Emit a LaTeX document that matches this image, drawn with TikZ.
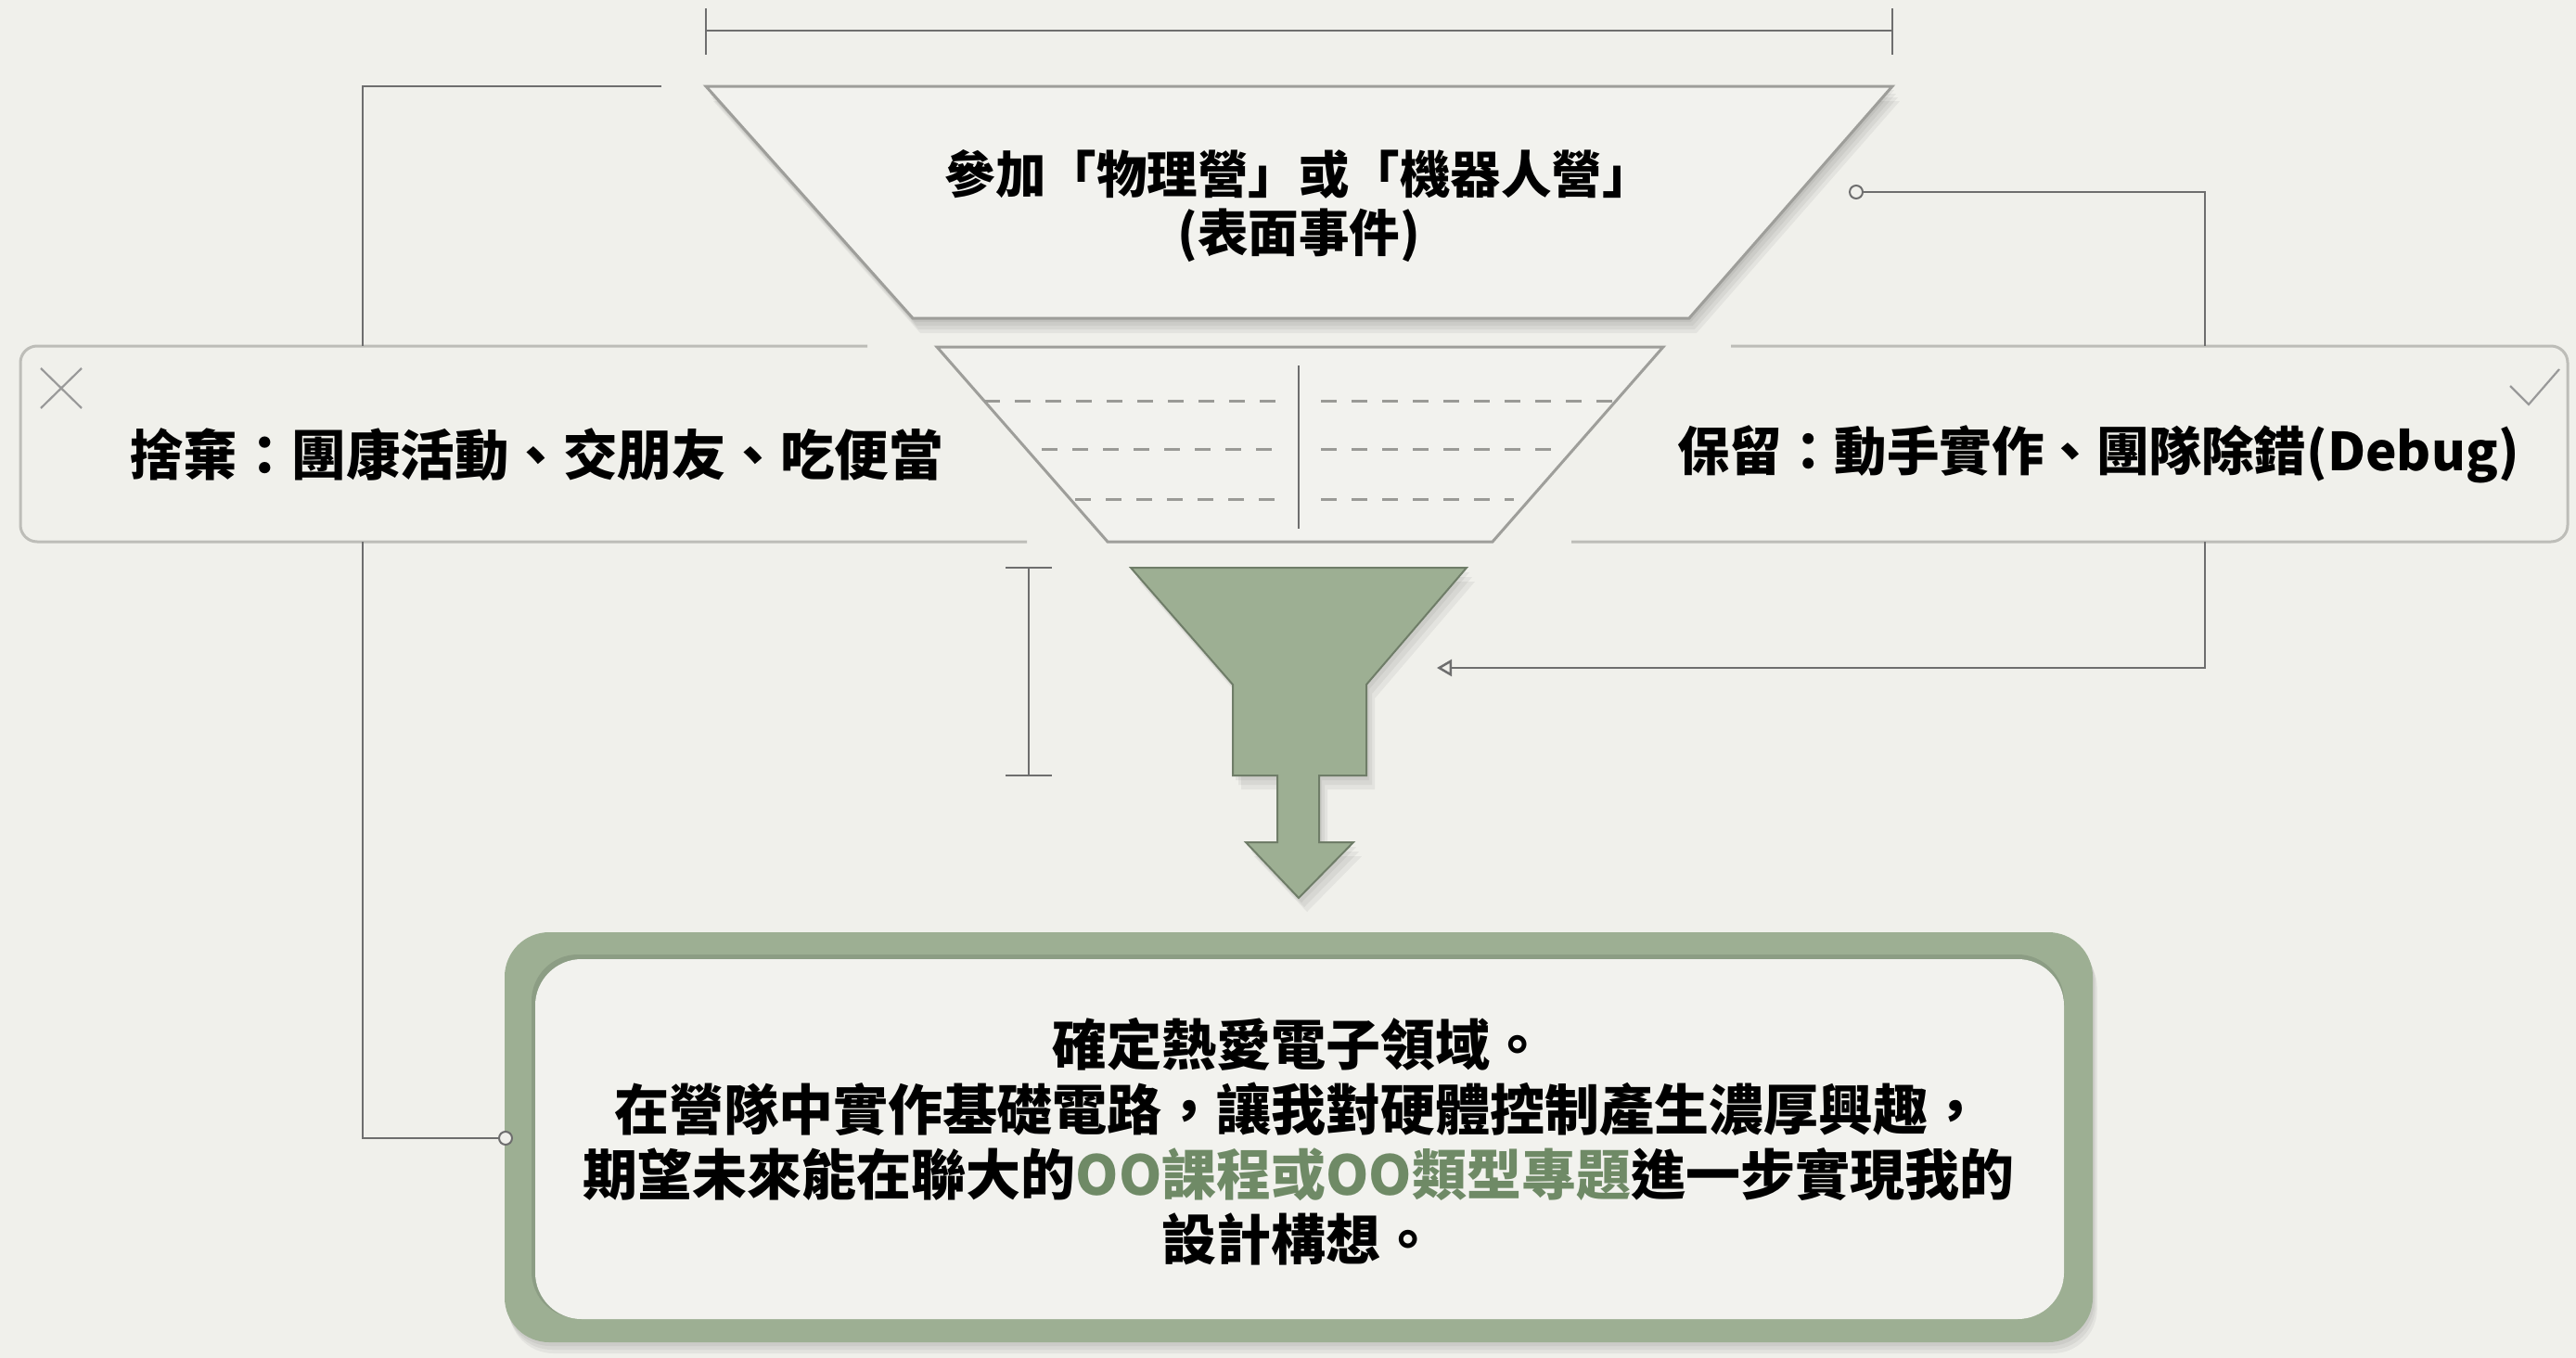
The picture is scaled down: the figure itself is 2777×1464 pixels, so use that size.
\documentclass[tikz,border=0pt]{standalone}
\usepackage{fontspec}
\setmainfont{Noto Sans CJK TC}
\usetikzlibrary{arrows.meta}
\definecolor{bg}{HTML}{F0F0EB}
\definecolor{panel}{HTML}{F2F2EE}
\definecolor{sage}{HTML}{9DAF93}
\definecolor{sagedark}{HTML}{6F7D68}
\definecolor{sagetext}{HTML}{6F8A66}
\definecolor{linegray}{HTML}{6E6E6E}
\definecolor{outline}{HTML}{9E9E9A}
\definecolor{bandgray}{HTML}{BDBDB8}
\definecolor{dashgray}{HTML}{9A9A96}
\tikzset{
  dimline/.style={draw=linegray, line width=2.5pt},
  conn/.style={draw=linegray, line width=2.5pt},
  bandline/.style={draw=bandgray, line width=3pt, rounded corners=18pt},
  trapline/.style={draw=outline, line width=3pt, fill=panel},
  dashrow/.style={draw=dashgray, line width=3pt, dash pattern=on 17pt off 16pt},
  markline/.style={draw=gray!80, line width=2.2pt},
  dot/.style={circle, draw=linegray, line width=2pt, fill=bg, inner sep=0pt, minimum size=14pt},
  bigtext/.style={font=\fontsize{58.5}{63}\selectfont\bfseries, text=black, align=center, inner sep=0pt},
  boxtext/.style={font=\fontsize{59}{70}\selectfont\bfseries, text=black, align=center, inner sep=0pt},
  softshadow/.style={fill=black, opacity=0.05}
}
\begin{document}
\begin{tikzpicture}[x=1pt,y=-1pt]
\useasboundingbox (0,0) rectangle (2777,1464);
\fill[bg] (0,0) rectangle (2777,1464);

% ---- top dimension line
\coordinate (dimL) at (761,33);
\coordinate (dimR) at (2040,33);
\draw[dimline] (dimL) -- (dimR);
\draw[dimline] (761,9) -- (761,59);
\draw[dimline] (2040,9) -- (2040,59);

% ---- side bands
\draw[bandline] (935,373) -- (22,373) -- (22,584) -- (1107,584);
\draw[bandline] (1866,373) -- (2768,373) -- (2768,584) -- (1694,584);

% ---- left bracket connector
\coordinate (lbTop) at (713,93);
\coordinate (lbCorner) at (391,93);
\coordinate (lbBandTop) at (391,373);
\coordinate (lbBandBot) at (391,584);
\coordinate (lbLow) at (391,1227);
\draw[conn] (lbTop) -- (lbCorner) -- (lbBandTop);

% ---- right connector
\node[dot] (dotR) at (2001,207) {};
\coordinate (rCorner) at (2377,207);
\coordinate (rBandTop) at (2377,373);
\coordinate (rBandBot) at (2377,584);
\coordinate (rLow) at (2377,720);
\coordinate (rTip) at (1549,720);
\draw[conn] (dotR) -- (rCorner) -- (rBandTop);
\draw[conn, -{Triangle[open, length=16pt, width=18pt, line width=2.5pt]}] (rBandBot) -- (rLow) -- (rTip);

% ---- top trapezoid with soft shadow
\foreach \s in {4,8,12,16}{
  \fill[softshadow] (761+\s*0.5,93+\s) -- (2040+\s*0.5,93+\s) -- (1821+\s*0.5,343+\s) -- (984+\s*0.5,343+\s) -- cycle;
}
\draw[trapline] (761,93) -- (2040,93) -- (1821,343) -- (984,343) -- cycle;
\node[bigtext, font=\fontsize{54.5}{63}\selectfont\bfseries] (surface) at (1400,222) {參加「物理營」或「機器人營」\\(表面事件)};

% ---- middle filter trapezoid
\draw[trapline] (1010,374) -- (1793,374) -- (1609,584) -- (1194,584) -- cycle;
\draw[dashrow] (1061,432) -- (1375,432);
\draw[dashrow] (1424,432) -- (1741,432);
\draw[dashrow] (1123,484) -- (1375,484);
\draw[dashrow] (1424,484) -- (1680,484);
\draw[dashrow] (1159,538) -- (1375,538);
\draw[dashrow] (1424,538) -- (1632,538);
\draw[draw=linegray, line width=2.5pt] (1400,394) -- (1400,570);

% ---- side texts and marks
\node[bigtext] (discard) at (578,490) {捨棄：團康活動、交朋友、吃便當};
\node[bigtext, font=\fontsize{56.5}{63}\selectfont\bfseries] (keep) at (2262,490) {保留：動手實作、團隊除錯(Debug)};
\draw[markline] (44,397) -- (88,440);
\draw[markline] (88,397) -- (44,440);
\draw[markline] (2706,416) -- (2726,436) -- (2759,398);

% ---- I-bar
\draw[dimline] (1109,612) -- (1109,836);
\draw[dimline] (1084,612) -- (1134,612);
\draw[dimline] (1084,836) -- (1134,836);

% ---- green funnel
\foreach \s in {5,10,15}{
  \fill[softshadow, shift={(\s*0.6,\s)}] (1219,612) -- (1581,612) -- (1473,738) -- (1473,836) -- (1422,836) -- (1422,908) -- (1459,908) -- (1400,968) -- (1343,908) -- (1377,908) -- (1377,836) -- (1329,836) -- (1329,738) -- cycle;
}
\draw[fill=sage, draw=sagedark, line width=2pt] (1219,612) -- (1581,612) -- (1473,738) -- (1473,836) -- (1422,836) -- (1422,908) -- (1459,908) -- (1400,968) -- (1343,908) -- (1377,908) -- (1377,836) -- (1329,836) -- (1329,738) -- cycle;

% ---- bottom result box
\foreach \s in {4,8,12}{
  \fill[softshadow, rounded corners=48pt] (544+\s*0.4,1005+\s) rectangle (2256+\s*0.4,1447+\s);
}
\fill[sage, rounded corners=48pt] (544,1005) rectangle (2256,1447);
\fill[black, opacity=0.10, rounded corners=50pt] (573,1029) rectangle (2225,1421);
\fill[panel, rounded corners=50pt] (577,1034) rectangle (2225,1422);
\node[dot] (dotL) at (545,1227) {};
\draw[conn] (lbBandBot) -- (lbLow) -- (dotL);

\node[boxtext] (result) at (1400,1231) {確定熱愛電子領域。\\在營隊中實作基礎電路，讓我對硬體控制產生濃厚興趣，\\期望未來能在聯大的\textcolor{sagetext}{OO課程或OO類型專題}進一步實現我的\\設計構想。};
\end{tikzpicture}
\end{document}
